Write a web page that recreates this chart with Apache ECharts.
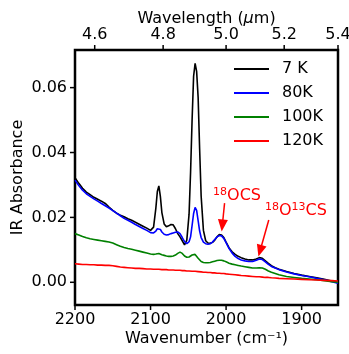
<!DOCTYPE html>
<html>
<head>
<meta charset="utf-8">
<script src="https://cdn.jsdelivr.net/npm/echarts@6/dist/echarts.min.js"></script>
<style>html,body{margin:0;padding:0;background:#fff}#c{width:349px;height:354px}</style>
</head>
<body>
<div id="c"></div>
<script>
const wavenumber = [2200,2195,2190,2185,2180,2175,2170,2165,2160,2155,2150,2145,2140,2135,2130,2125,2120,2115,2110,2105,2100,
  2096,2093,2091,2089,2087,2085,2082,2079,2076,2073,2070,2067,2064,2061,2058,2055,2052,
  2049,2047,2045,2043,2041,2039,2037,2035,2033,2030,
  2027,2024,2021,2018,2015,2012,2009,2006,2003,2000,
  1996,1992,1988,1984,1980,1975,1970,1965,1960,1956,1952,1948,1944,1940,1935,1930,
  1920,1910,1900,1890,1880,1870,1860,1852];
const k7 = [0.0322,0.0305,0.0290,0.0278,0.0270,0.0262,0.0256,0.0250,0.0243,0.0232,0.0222,0.0213,0.0207,0.0202,0.0196,0.0191,0.0185,0.0179,0.0173,0.0167,0.0160,
  0.0170,0.0228,0.0280,0.0297,0.0265,0.0215,0.0180,0.0171,0.0174,0.0178,0.0177,0.0165,0.0150,0.0140,0.0128,0.0115,0.0130,
  0.0210,0.0340,0.0500,0.0635,0.0675,0.0650,0.0570,0.0410,0.0265,0.0160,
  0.0128,0.0121,0.0120,0.0123,0.0130,0.0140,0.0147,0.0146,0.0138,0.0124,
  0.0106,0.0094,0.0086,0.0080,0.0076,0.0072,0.0069,0.0069,0.0072,0.0076,0.0074,0.0066,0.0058,0.0051,0.0045,0.0040,
  0.0033,0.0027,0.0022,0.0018,0.0014,0.0009,0.0004,0.0000];
const k80 = [0.0315,0.0298,0.0284,0.0273,0.0265,0.0257,0.0250,0.0243,0.0236,0.0229,0.0221,0.0213,0.0205,0.0197,0.0191,0.0185,0.0178,0.0172,0.0166,0.0160,0.0153,
  0.0152,0.0158,0.0165,0.0168,0.0163,0.0155,0.0148,0.0146,0.0147,0.0150,0.0152,0.0154,0.0155,0.0150,0.0138,0.0125,0.0119,
  0.0125,0.0140,0.0175,0.0212,0.0231,0.0222,0.0190,0.0158,0.0138,0.0124,
  0.0119,0.0117,0.0119,0.0124,0.0132,0.0140,0.0144,0.0143,0.0135,0.0122,
  0.0104,0.0090,0.0080,0.0073,0.0069,0.0066,0.0064,0.0064,0.0068,0.0072,0.0070,0.0063,0.0055,0.0049,0.0044,0.0039,
  0.0032,0.0026,0.0021,0.0017,0.0012,0.0008,0.0002,-0.0003];
const k100 = [0.0150,0.0146,0.0141,0.0137,0.0134,0.0132,0.0130,0.0128,0.0126,0.0124,0.0121,0.0116,0.0111,0.0107,0.0104,0.0102,0.0099,0.0096,0.0093,0.0090,0.0087,
  0.0086,0.0087,0.0088,0.0089,0.0087,0.0085,0.0083,0.0081,0.0080,0.0080,0.0081,0.0084,0.0089,0.0093,0.0089,0.0081,0.0077,
  0.0078,0.0080,0.0084,0.0087,0.0086,0.0081,0.0074,0.0068,0.0064,0.0061,
  0.0060,0.0060,0.0061,0.0063,0.0065,0.0067,0.0068,0.0068,0.0066,0.0063,
  0.0059,0.0056,0.0054,0.0052,0.0050,0.0048,0.0046,0.0044,0.0044,0.0045,0.0044,0.0040,0.0035,0.0031,0.0027,0.0023,
  0.0018,0.0015,0.0012,0.0010,0.0008,0.0005,0.0002,0.0000];
const k120 = [0.0057,0.0056,0.0055,0.0055,0.0054,0.0054,0.0053,0.0053,0.0052,0.0052,0.0051,0.0049,0.0047,0.0046,0.0045,0.0044,0.0043,0.0043,0.0042,0.0041,0.0041,
  0.0040,0.0040,0.0040,0.0040,0.0040,0.0039,0.0039,0.0039,0.0038,0.0038,0.0038,0.0037,0.0037,0.0037,0.0036,0.0036,0.0035,
  0.0035,0.0035,0.0034,0.0034,0.0034,0.0033,0.0033,0.0032,0.0032,0.0031,
  0.0031,0.0030,0.0030,0.0029,0.0029,0.0028,0.0028,0.0027,0.0027,0.0026,
  0.0025,0.0024,0.0023,0.0022,0.0021,0.0020,0.0019,0.0018,0.0017,0.0017,0.0016,0.0015,0.0015,0.0014,0.0013,0.0012,
  0.0011,0.0010,0.0009,0.0008,0.0007,0.0006,0.0005,0.0004];
const seriesNames = ['7 K', '80K', '100K', '120K'];
const seriesColors = ['#000000', '#0000ff', '#008000', '#ff0000'];
const wavenumberTicks = [2200, 2100, 2000, 1900];
const wavelengthTicks = [4.6, 4.8, 5.0, 5.2, 5.4];
const absorbanceTicks = [0, 0.02, 0.04, 0.06];

const FONT = 'DejaVu Sans';
const FS = 16;
const chart = echarts.init(document.getElementById('c'), null, {renderer: 'canvas'});
const allSeries = [k7, k80, k100, k120];
const xMin = 10000 / 5.4, xMax = 2200;
const yMin = -0.007, yMax = 0.0716;
const labelStyle = {color: '#000', fontSize: FS, fontFamily: FONT};
const TICK_LEN = 5;

const series = allSeries.map((vals, i) => ({
  name: seriesNames[i],
  type: 'line',
  xAxisIndex: 0,
  yAxisIndex: 0,
  data: wavenumber.map((w, j) => [w, vals[j]]),
  showSymbol: false,
  symbol: 'none',
  smooth: false,
  lineStyle: {color: seriesColors[i], width: 1.6},
  itemStyle: {color: seriesColors[i]},
  z: 2 + i
}));

const annotationColor = '#ff0000';
const richAnn = {
  s: {fontSize: 11, fontFamily: FONT, color: annotationColor, verticalAlign: 'top', lineHeight: 11, padding: [0, 0, 6, 0]},
  m: {fontSize: 16, fontFamily: FONT, color: annotationColor, verticalAlign: 'bottom', lineHeight: 17}
};
series.push({
  type: 'line',
  xAxisIndex: 0, yAxisIndex: 0,
  data: [],
  silent: true,
  markLine: {
    silent: true,
    symbol: ['none', 'triangle'],
    symbolSize: [10, 12],
    lineStyle: {color: annotationColor, width: 1.5, type: 'solid'},
    label: {show: false},
    data: [
      [{coord: [2002, 0.0244]}, {coord: [2005, 0.0175]}],
      [{coord: [1943.5, 0.0192]}, {coord: [1955, 0.0097]}]
    ]
  },
  markPoint: {
    silent: true,
    symbol: 'circle',
    symbolSize: 0,
    label: {show: true, position: 'inside', color: annotationColor, fontFamily: FONT, fontSize: 16, rich: richAnn},
    data: [
      {coord: [1985.5, 0.0269], label: {formatter: '{s|18}{m|OCS}'}},
      {coord: [1907.5, 0.0222], label: {formatter: '{s|18}{m|O}{s|13}{m|CS}'}}
    ]
  },
  z: 10
});

chart.setOption({
  animation: false,
  backgroundColor: '#fff',
  grid: {left: 75, right: 11, top: 50, bottom: 49, containLabel: false, outerBoundsMode: 'none',
    show: true, borderColor: '#000', borderWidth: 2.5, backgroundColor: 'transparent'},
  legend: {
    data: seriesNames,
    orient: 'vertical',
    left: 234,
    top: 61,
    padding: 0,
    itemWidth: 35,
    itemHeight: 2,
    itemGap: 8,
    icon: 'rect',
    textStyle: {color: '#000', fontSize: FS, fontFamily: FONT, padding: [0, 0, 0, 8]},
    selectedMode: false
  },
  xAxis: [{
    type: 'value', position: 'bottom', min: xMin, max: xMax, inverse: true,
    axisLine: {show: false, onZero: false},
    splitLine: {show: false},
    axisTick: {show: false},
    axisLabel: Object.assign({customValues: wavenumberTicks, margin: 7, formatter: v => String(Math.round(v))}, labelStyle),
    name: 'Wavenumber (cm⁻¹)', nameLocation: 'middle', nameGap: 26, nameMoveOverlap: false,
    nameTextStyle: {color: '#000', fontSize: FS, fontFamily: FONT}
  }, {
    type: 'value', position: 'top', min: xMin, max: xMax, inverse: true,
    axisLine: {show: false, onZero: false},
    splitLine: {show: false},
    axisTick: {show: false},
    axisLabel: Object.assign({customValues: wavelengthTicks.map(l => 10000 / l), margin: 7, formatter: v => (10000 / v).toFixed(1)}, labelStyle),
    name: '{n|Wavelength (}{i|μ}{n|m)}', nameLocation: 'middle', nameGap: 23, nameMoveOverlap: false,
    nameTextStyle: {color: '#000', fontSize: FS, fontFamily: FONT,
      rich: {n: {fontSize: FS, fontFamily: FONT, color: '#000'}, i: {fontSize: FS, fontFamily: FONT, fontStyle: 'italic', color: '#000'}}}
  }],
  yAxis: [{
    type: 'value', position: 'left', min: yMin, max: yMax,
    axisLine: {show: false, onZero: false},
    splitLine: {show: false},
    axisTick: {show: false},
    axisLabel: Object.assign({customValues: absorbanceTicks, margin: 8, formatter: v => v.toFixed(2)}, labelStyle),
    name: 'IR Absorbance', nameLocation: 'middle', nameGap: 49, nameRotate: 90, nameMoveOverlap: false,
    nameTextStyle: {color: '#000', fontSize: FS, fontFamily: FONT}
  }],
  series: series
});

// tick marks: positions come from the chart's own scales via convertToPixel
const tickGraphics = [];
function addTicks(points, dx, dy) {
  points.forEach(pt => {
    const p = chart.convertToPixel({gridIndex: 0}, pt);
    if (!p) return;
    tickGraphics.push({type: 'line', silent: true, z: 100,
      shape: {x1: p[0], y1: p[1], x2: p[0] + dx, y2: p[1] + dy},
      style: {stroke: '#000', lineWidth: 1.5}});
  });
}
addTicks(wavenumberTicks.map(v => [v, yMin]), 0, TICK_LEN);
addTicks(wavelengthTicks.map(l => [10000 / l, yMax]), 0, -TICK_LEN);
addTicks(absorbanceTicks.map(v => [xMax, v]), -TICK_LEN, 0);
chart.setOption({graphic: {elements: tickGraphics}});
</script>
</body>
</html>
